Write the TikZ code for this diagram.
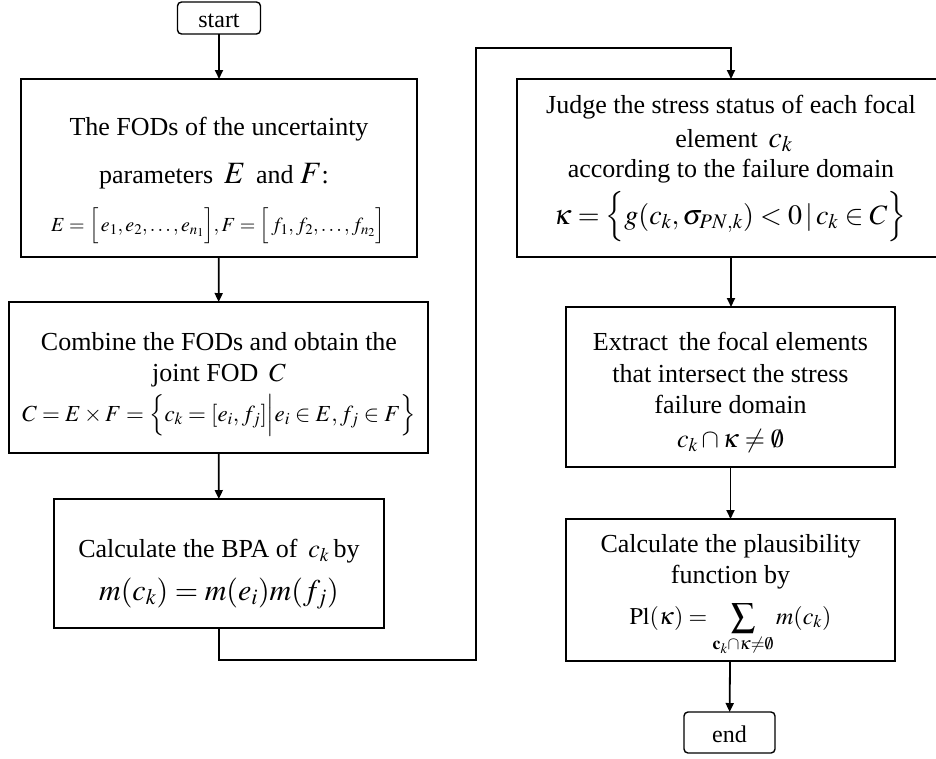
\documentclass[tikz,border=0pt]{standalone}
\usepackage{mathptmx}
\usepackage[no-math]{fontspec}
\setmainfont{Liberation Serif}
\usetikzlibrary{arrows.meta}

\newcommand{\fs}[1]{\fontsize{#1}{#1}\selectfont}

\tikzset{
  box/.style={draw, line width=1.4pt, inner sep=0pt, outer sep=0pt},
  term/.style={box, rounded corners=4pt},
  txt/.style={inner sep=0pt, outer sep=0pt, anchor=base, font=\fs{26}},
  link/.style={line width=1.8pt, -{Triangle[length=9pt,width=8pt]}},
}

\begin{document}
\begin{tikzpicture}[x=1pt,y=-1pt]
\useasboundingbox (0,0) rectangle (936,758);
\clip (0,0) rectangle (936,758);

% terminals
\node[term, minimum width=83pt, minimum height=32pt] (start) at (219,18) {};
\node[txt, font=\fs{24}] (startt) at (219,27) {start};
\node[term, minimum width=91pt, minimum height=41pt] (end) at (729.5,732.5) {};
\node[txt, font=\fs{24}] (endt) at (729.5,742) {end};

% left column
\node[box, minimum width=396pt, minimum height=178pt] (b1) at (219,168) {};
\node[txt] (b1a) at (219,135) {The FODs of the uncertainty};
\node[txt] (b1b) at (214,183) {parameters \,{\fs{31}$E$}\, and {\fs{31}$F$}:};
\node[txt, font=\fs{20}] (b1c) at (218,231)
  {$E=\Big[\,e_1,e_2,\ldots,e_{n_1}\Big],F=\Big[\,f_1,f_2,\ldots,f_{n_2}\Big]$};

\node[box, minimum width=419pt, minimum height=151pt] (b2) at (218.5,377.5) {};
\node[txt] (b2a) at (219,350) {Combine the FODs and obtain the};
\node[txt] (b2b) at (219,381) {joint FOD \,$C$};
\node[txt, font=\fs{23}] (b2c) at (219,421)
  {$C=E\times F=\Big\{c_k=[e_i,f_j]\Big|e_i\in E,f_j\in F\Big\}$};

\node[box, minimum width=330pt, minimum height=129pt] (b3) at (219,563.5) {};
\node[txt] (b3a) at (219,557) {Calculate the BPA of \,$c_k$\,by};
\node[txt, font=\fs{30}] (b3b) at (219,600) {$m(c_k)=m(e_i)m(f_j)$};

% right column
\node[box, minimum width=428pt, minimum height=178pt] (b4) at (731,168) {};
\node[txt] (b4a) at (731,113) {Judge the stress status of each focal};
\node[txt] (b4b) at (734,147) {element \,{\fs{30}$c_k$}};
\node[txt] (b4c) at (731,177) {according to the failure domain};
\node[txt, font=\fs{28}] (b4d) at (730,224)
  {$\kappa=\Big\{g(c_k,\sigma_{PN,k})<0\,|\,c_k\in C\Big\}$};

\node[box, minimum width=329pt, minimum height=160pt] (b5) at (730.5,387) {};
\node[txt] (b5a) at (730.5,350) {Extract \,the focal elements};
\node[txt] (b5b) at (730.5,382) {that intersect the stress};
\node[txt] (b5c) at (730.5,413) {failure domain};
\node[txt, font=\fs{26}] (b5d) at (730.5,447) {$c_k\cap\kappa\neq\emptyset$};

\node[box, minimum width=329pt, minimum height=142pt] (b6) at (730.5,590) {};
\node[txt] (b6a) at (730.5,552) {Calculate the plausibility};
\node[txt] (b6b) at (730.5,583) {function by};
\node[txt, font=\fs{24}] (b6c) at (730.5,624)
  {$\mathrm{Pl}(\kappa)=\displaystyle\sum_{\mathbf{c}_k\cap\kappa\neq\emptyset}m(c_k)$};

% connectors
\coordinate (d1) at (219,660);
\coordinate (d2) at (476,660);
\coordinate (d3) at (476,48);
\coordinate (d4) at (731,48);
\draw[link] (start) -- (b1);
\draw[link] (b1) -- (b2);
\draw[link] (b2) -- (b3);
\draw[link] (b3.south) -- (d1) -- (d2) -- (d3) -- (d4) -- (b4.north);
\draw[link] (b4) -- (b4 |- b5.north);
\draw[link] (b5) -- (b6);
\draw[link] (b6) -- (end);
\end{tikzpicture}
\end{document}
